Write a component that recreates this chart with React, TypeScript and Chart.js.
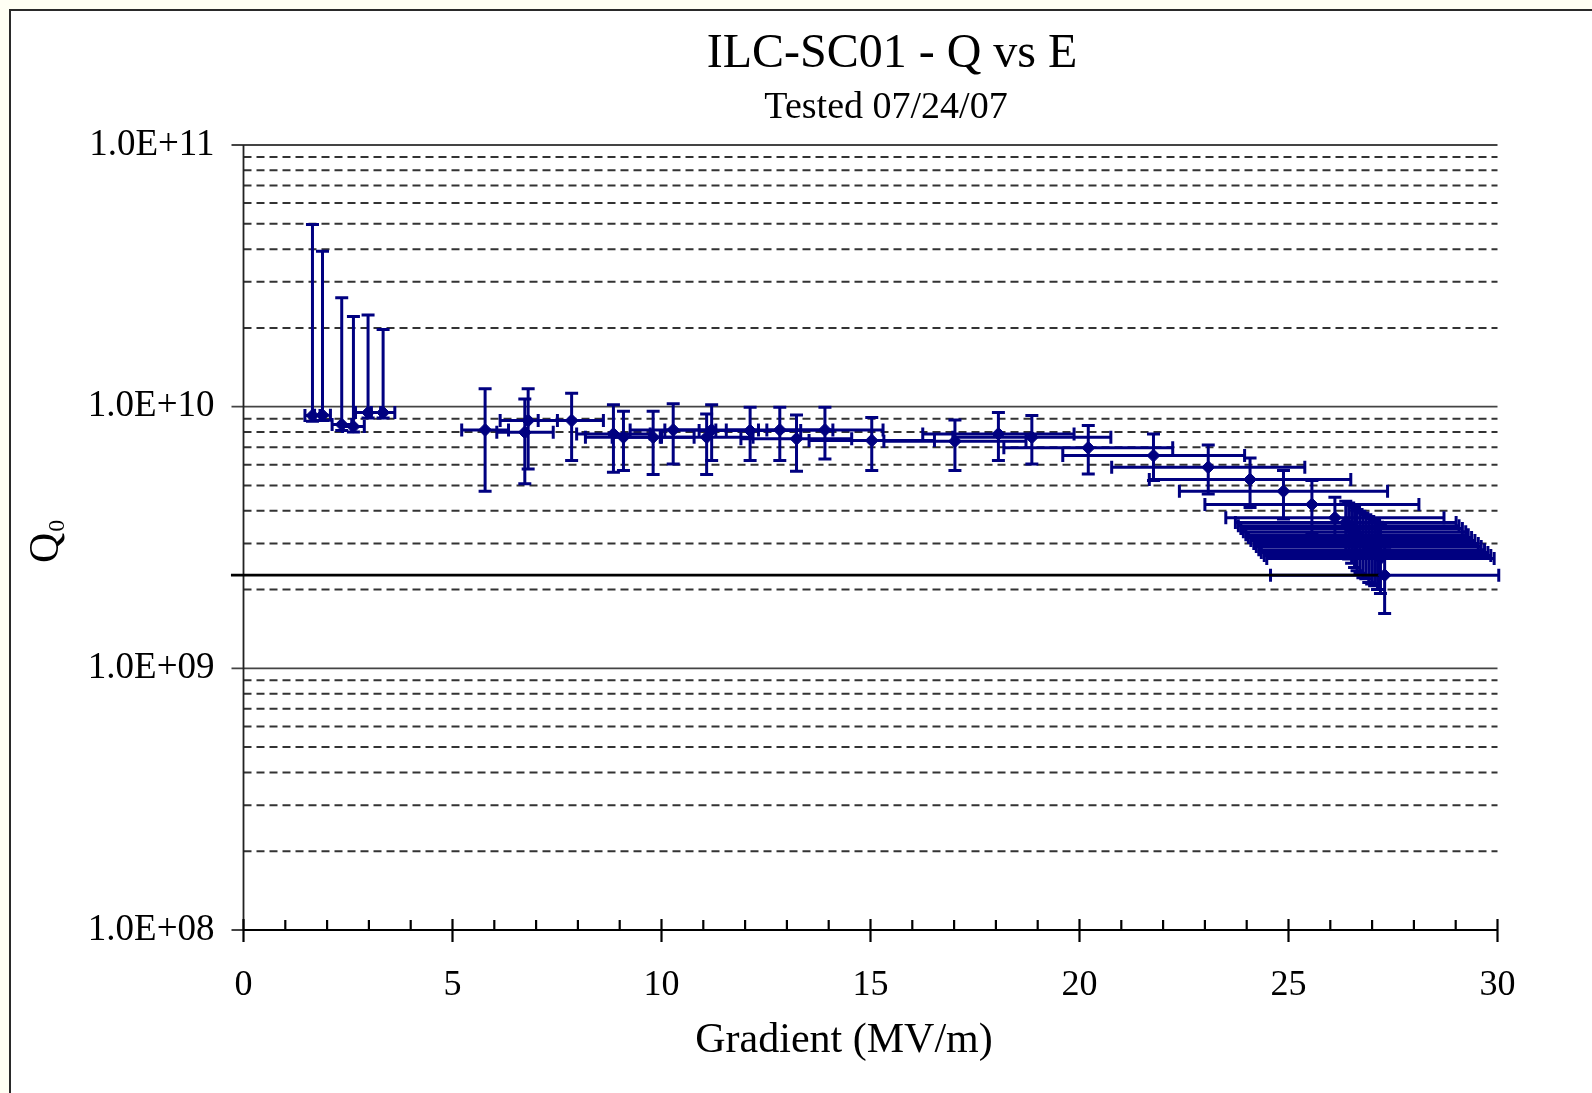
import { useEffect, useRef } from 'react';
import { Chart, registerables } from 'chart.js';

Chart.register(...registerables);

// ---- data ----
const gradient = [
  1.65, 1.89, 2.35, 2.63, 2.98, 3.34,
  5.78, 6.73, 6.81, 7.85, 8.85, 9.09, 9.8, 10.28, 11.08, 11.2, 12.12, 12.83, 13.23, 13.91, 15.03,
  17.02, 18.06, 18.86, 20.21, 21.77, 23.08, 24.08, 24.88, 25.56, 26.11,
  26.37, 26.44, 26.51, 26.58, 26.64, 26.71, 26.78, 26.85, 26.92, 26.99, 27.06, 27.13, 27.2,
  27.3,
];
const q0 = [
  9.25e9, 9.28e9, 8.54e9, 8.39e9, 9.49e9, 9.49e9,
  8.15e9, 7.98e9, 8.85e9, 8.85e9, 7.87e9, 7.64e9, 7.64e9, 8.15e9, 7.64e9, 8.15e9, 8.1e9, 8.15e9, 7.54e9, 8.15e9, 7.42e9,
  7.38e9, 7.87e9, 7.64e9, 6.96e9, 6.5e9, 5.87e9, 5.27e9, 4.75e9, 4.23e9, 3.76e9,
  3.61e9, 3.51e9, 3.42e9, 3.33e9, 3.24e9, 3.16e9, 3.08e9, 3.0e9, 2.92e9, 2.84e9, 2.77e9, 2.7e9, 2.63e9,
  2.27e9,
];
const q0High = [
  4.97e10, 3.93e10, 2.61e10, 2.21e10, 2.24e10, 1.97e10,
  1.17e10, 1.07e10, 1.17e10, 1.125e10, 1.016e10, 9.6e9, 9.6e9, 1.025e10, 9.38e9, 1.016e10, 9.95e9, 9.95e9, 9.3e9, 9.95e9, 9.1e9,
  8.9e9, 9.5e9, 9.25e9, 8.47e9, 7.87e9, 7.14e9, 6.37e9, 5.7e9, 5.22e9, 4.51e9,
  4.35e9, 4.28e9, 4.2e9, 4.12e9, 4.05e9, 3.98e9, 3.92e9, 3.86e9, 3.8e9, 3.74e9, 3.68e9, 3.62e9, 3.56e9,
  2.9e9,
];
const q0Low = [
  8.8e9, 8.85e9, 8.1e9, 8.0e9, 9.05e9, 9.05e9,
  4.75e9, 5.07e9, 5.78e9, 6.22e9, 5.61e9, 5.7e9, 5.5e9, 6.04e9, 5.5e9, 6.22e9, 6.22e9, 6.22e9, 5.66e9, 6.31e9, 5.7e9,
  5.7e9, 6.22e9, 6.04e9, 5.53e9, 5.22e9, 4.64e9, 4.12e9, 3.72e9, 3.3e9, 3.0e9,
  2.75e9, 2.62e9, 2.52e9, 2.43e9, 2.36e9, 2.31e9, 2.22e9, 2.2e9, 2.13e9, 2.1e9, 2.07e9, 2.0e9, 1.93e9,
  1.62e9,
];
const gradientLow = [
  1.47, 1.7, 2.12, 2.37, 2.68, 3.06,
  5.22, 6.06, 6.14, 7.05, 7.97, 8.18, 8.82, 9.25, 9.97, 10.08, 10.9, 11.55, 11.9, 12.52, 13.53,
  15.32, 16.25, 16.97, 18.19, 19.6, 20.77, 21.67, 22.39, 23.0, 23.5,
  23.73, 23.8, 23.86, 23.92, 23.98, 24.04, 24.1, 24.17, 24.23, 24.29, 24.35, 24.42, 24.48,
  24.57,
];
const gradientHigh = [
  1.83, 2.08, 2.59, 2.89, 3.28, 3.62,
  6.34, 7.41, 7.51, 8.61, 9.73, 10.0, 10.78, 11.3, 12.19, 12.32, 13.33, 14.1, 14.55, 15.3, 16.53,
  18.72, 19.87, 20.75, 22.23, 23.95, 25.39, 26.49, 27.37, 28.12, 28.72,
  29.01, 29.08, 29.16, 29.24, 29.3, 29.38, 29.46, 29.54, 29.61, 29.69, 29.77, 29.84, 29.92,
  30.03,
];
// horizontal reference line at the final Q0, from the axis to the final gradient
const finalQLine = [
  { x: -0.3, y: 2.27e9 },
  { x: 27.3, y: 2.27e9 },
];

const xMajorTicks = [0, 5, 10, 15, 20, 25, 30];
const xMinorTicks = [1, 2, 3, 4, 6, 7, 8, 9, 11, 12, 13, 14, 16, 17, 18, 19, 21, 22, 23, 24, 26, 27, 28, 29];
const yDecades = [1e8, 1e9, 1e10, 1e11];
const yTickLabels = ['1.0E+08', '1.0E+09', '1.0E+10', '1.0E+11'];
const yMinorLines = [
  2e8, 3e8, 4e8, 5e8, 6e8, 7e8, 8e8, 9e8,
  2e9, 3e9, 4e9, 5e9, 6e9, 7e9, 8e9, 9e9,
  2e10, 3e10, 4e10, 5e10, 6e10, 7e10, 8e10, 9e10,
];

const titleText = 'ILC-SC01 - Q vs E';
const subtitleText = 'Tested 07/24/07';
const xAxisTitle = 'Gradient (MV/m)';
const yAxisTitle = 'Q';
const yAxisSub = '0';

const SERIF = "'Liberation Serif', 'Times New Roman', serif";
const NAVY = '#000080';

const decorPlugin = {
  id: 'decor',
  beforeDatasetsDraw(chart: any) {
    const { ctx, chartArea: a, scales } = chart;
    const x = scales.x;
    const y = scales.y;
    ctx.save();
    // minor dashed grid
    ctx.strokeStyle = '#333333';
    ctx.lineWidth = 2;
    ctx.setLineDash([8, 5]);
    for (const v of yMinorLines) {
      const py = y.getPixelForValue(v);
      ctx.beginPath();
      ctx.moveTo(a.left, py);
      ctx.lineTo(a.right, py);
      ctx.stroke();
    }
    ctx.setLineDash([]);
    // major solid grid + outside ticks
    ctx.strokeStyle = '#444444';
    ctx.lineWidth = 1.8;
    for (const v of yDecades) {
      const py = y.getPixelForValue(v);
      ctx.beginPath();
      ctx.moveTo(a.left - 12, py);
      ctx.lineTo(a.right, py);
      ctx.stroke();
    }
    // y axis line
    ctx.strokeStyle = '#222222';
    ctx.lineWidth = 1.8;
    ctx.beginPath();
    ctx.moveTo(a.left, a.top);
    ctx.lineTo(a.left, a.bottom);
    ctx.stroke();
    // x axis line + ticks
    ctx.strokeStyle = '#000000';
    ctx.lineWidth = 2.2;
    ctx.beginPath();
    ctx.moveTo(a.left, a.bottom);
    ctx.lineTo(a.right, a.bottom);
    ctx.stroke();
    for (const v of xMajorTicks) {
      const px = x.getPixelForValue(v);
      ctx.beginPath();
      ctx.moveTo(px, a.bottom - 11);
      ctx.lineTo(px, a.bottom + 12);
      ctx.stroke();
    }
    for (const v of xMinorTicks) {
      const px = x.getPixelForValue(v);
      ctx.beginPath();
      ctx.moveTo(px, a.bottom - 10);
      ctx.lineTo(px, a.bottom);
      ctx.stroke();
    }
    // error bars
    ctx.strokeStyle = NAVY;
    ctx.lineWidth = 3;
    const cap = 6.5;
    for (let i = 0; i < gradient.length; i++) {
      const px = x.getPixelForValue(gradient[i]);
      const py = y.getPixelForValue(q0[i]);
      const yt = y.getPixelForValue(q0High[i]);
      const yb = y.getPixelForValue(q0Low[i]);
      const xl = x.getPixelForValue(gradientLow[i]);
      const xr = x.getPixelForValue(gradientHigh[i]);
      ctx.beginPath();
      ctx.moveTo(px, yt);
      ctx.lineTo(px, yb);
      ctx.moveTo(px - cap, yt);
      ctx.lineTo(px + cap, yt);
      ctx.moveTo(px - cap, yb);
      ctx.lineTo(px + cap, yb);
      ctx.moveTo(xl, py);
      ctx.lineTo(xr, py);
      ctx.moveTo(xl, py - cap);
      ctx.lineTo(xl, py + cap);
      ctx.moveTo(xr, py - cap);
      ctx.lineTo(xr, py + cap);
      ctx.stroke();
    }
    ctx.restore();
  },
  afterDraw(chart: any) {
    const { ctx } = chart;
    ctx.save();
    ctx.fillStyle = '#000000';
    ctx.textAlign = 'center';
    ctx.textBaseline = 'alphabetic';
    ctx.font = `48px ${SERIF}`;
    ctx.fillText(titleText, 892, 67);
    ctx.font = `38px ${SERIF}`;
    ctx.fillText(subtitleText, 886, 118);
    ctx.font = `42px ${SERIF}`;
    ctx.fillText(xAxisTitle, 844, 1052);
    // rotated Q0
    ctx.translate(58, 563);
    ctx.rotate(-Math.PI / 2);
    ctx.textAlign = 'left';
    ctx.font = `42px ${SERIF}`;
    ctx.fillText(yAxisTitle, 0, 0);
    const qw = ctx.measureText(yAxisTitle).width;
    ctx.font = `24px ${SERIF}`;
    ctx.fillText(yAxisSub, qw + 1, 6);
    ctx.restore();
  },
};

export default function App() {
  const canvasRef = useRef<HTMLCanvasElement | null>(null);

  useEffect(() => {
    const canvas = canvasRef.current;
    if (!canvas) return;
    const points = gradient.map((e, i) => ({ x: e, y: q0[i] }));
    const chart = new Chart(canvas, {
      type: 'scatter',
      data: {
        datasets: [
          {
            type: 'scatter',
            data: points,
            pointStyle: 'rectRot',
            pointRadius: 6.5,
            pointBackgroundColor: NAVY,
            pointBorderColor: NAVY,
            pointBorderWidth: 1,
            order: 0,
          } as any,
          {
            type: 'line',
            data: finalQLine,
            borderColor: '#000000',
            borderWidth: 2.6,
            pointRadius: 0,
            clip: false,
            order: 1,
          } as any,
        ],
      },
      options: {
        responsive: false,
        animation: false,
        devicePixelRatio: 1,
        layout: { padding: { left: 0, top: 145, right: 94.5, bottom: 0 } },
        plugins: {
          legend: { display: false },
          tooltip: { enabled: false },
          title: { display: false },
        },
        scales: {
          x: {
            type: 'linear',
            min: 0,
            max: 30,
            afterBuildTicks: (scale: any) => {
              scale.ticks = xMajorTicks.map((v) => ({ value: v }));
            },
            afterFit: (scale: any) => {
              scale.height = 163;
            },
            grid: { display: false, drawTicks: false },
            border: { display: false },
            ticks: {
              padding: 34,
              color: '#000000',
              font: { family: SERIF, size: 36 },
              maxRotation: 0,
              autoSkip: false,
            },
          },
          y: {
            type: 'logarithmic',
            min: 1e8,
            max: 1e11,
            afterBuildTicks: (scale: any) => {
              scale.ticks = yDecades.map((v) => ({ value: v }));
            },
            afterFit: (scale: any) => {
              scale.width = 243.5;
            },
            grid: { display: false, drawTicks: false },
            border: { display: false },
            ticks: {
              padding: 29,
              color: '#000000',
              font: { family: SERIF, size: 37 },
              autoSkip: false,
              callback: (v: any) => {
                const idx = yDecades.indexOf(Number(v));
                return idx >= 0 ? yTickLabels[idx] : '';
              },
            },
          },
        },
      } as any,
      plugins: [decorPlugin],
    });
    return () => chart.destroy();
  }, []);

  return (
    <div
      style={{
        position: 'fixed',
        left: 0,
        top: 0,
        width: 1592,
        height: 1093,
        overflow: 'hidden',
        background: '#fffff4',
      }}
    >
      <div
        style={{
          position: 'absolute',
          left: 9,
          top: 9,
          width: 1700,
          height: 1200,
          borderLeft: '2px solid #2a2a2a',
          borderTop: '2px solid #2a2a2a',
          background: '#ffffff',
        }}
      />
      <canvas
        ref={canvasRef}
        width={1592}
        height={1093}
        style={{ position: 'absolute', left: 0, top: 0, width: 1592, height: 1093 }}
      />
    </div>
  );
}
